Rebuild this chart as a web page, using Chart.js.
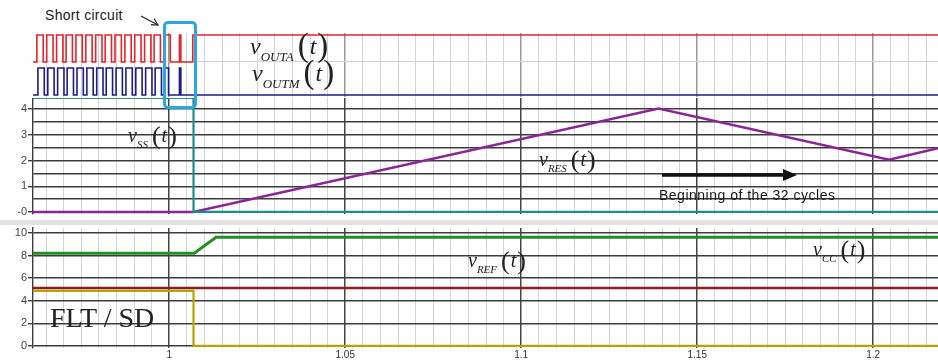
<!DOCTYPE html>
<html>
<head>
<meta charset="utf-8">
<title>Short circuit</title>
<script src="https://cdn.jsdelivr.net/npm/chart.js@4.4.1/dist/chart.umd.min.js"></script>
<style>
  body { margin: 0; background: #fff; }
  #wrap { position: relative; width: 938px; height: 360px; overflow: hidden; background: #fff; }
  .panel { position: absolute; left: 0; width: 938px; }
  #band { position: absolute; left: 0; top: 220px; width: 938px; height: 5px; background: #e2e2e2; }
  .eq { position: absolute; font-family: 'Liberation Serif', 'Times New Roman', serif; color: #222; white-space: nowrap; line-height: 1; }
  .eq span { position: relative; line-height: 1; }
  .note { position: absolute; font-family: 'Liberation Sans', Arial, sans-serif; color: #1a1a1a; white-space: nowrap; line-height: 1; }
  #box { position: absolute; left: 163px; top: 21px; width: 28px; height: 82px; border: 3px solid #2ba6de; border-radius: 5px; }
  svg { position: absolute; left: 0; top: 0; }
</style>
</head>
<body>
<div id="wrap">
  <div id="band"></div>
  <div class="panel" style="top:33px;height:64px"><canvas id="c1"></canvas></div>
  <div class="panel" style="top:98px;height:122px"><canvas id="c2"></canvas></div>
  <div class="panel" style="top:222px;height:138px"><canvas id="c3"></canvas></div>

  <div class="note" style="left:45px;top:8px;font-size:14px;letter-spacing:0.3px">Short circuit</div>
  <svg width="938" height="360">
    <line x1="141" y1="16" x2="158" y2="25" stroke="#222" stroke-width="1.2"/>
    <polyline points="154,18.5 158,25 151,24.6" fill="none" stroke="#222" stroke-width="1.2"/>
    <line x1="662" y1="175" x2="786" y2="175" stroke="#111" stroke-width="3.5"/>
    <polygon points="783,169 797,175 783,181" fill="#111"/>
  </svg>
  <div id="box"></div>
  <div class="note" style="left:659px;top:188px;font-size:14px;letter-spacing:0.5px">Beginning of the 32 cycles</div>
  <div class="eq" style="left:50px;top:304px;font-size:28px">FLT / SD</div>
</div>

<script>
// time axis (s)
const tMin = 0.9613;
const tMax = 1.2184;
const xTickLabels = [1, 1.05, 1.1, 1.15, 1.2];

// gate outputs: edge times, first edge is a rising one
const outaEdges = [0.9624, 0.9642, 0.9652, 0.9670, 0.9680, 0.9698, 0.9707, 0.9725, 0.9735, 0.9753,
                   0.9763, 0.9781, 0.9791, 0.9809, 0.9818, 0.9836, 0.9846, 0.9864, 0.9874, 0.9892,
                   0.9902, 0.9920, 0.9930, 0.9948, 0.9957, 0.9975, 0.9985, 1.0003, 1.0029, 1.0033,
                   1.0067];
const outmEdges = [0.9627, 0.9645, 0.9655, 0.9673, 0.9683, 0.9701, 0.9710, 0.9728, 0.9738, 0.9756,
                   0.9766, 0.9784, 0.9794, 0.9812, 0.9821, 0.9839, 0.9849, 0.9867, 0.9877, 0.9895,
                   0.9905, 0.9923, 0.9933, 0.9951, 0.9960, 0.9978, 0.9988, 0.9998, 1.0029, 1.0033];
const outaLevels = [5.47, 9.69];   // low, high (display offset)
const outmLevels = [0.31, 4.53];

// soft-start and resonant-timer voltages (V)
const ssT = [0.9613, 1.0069, 1.0069, 1.2184];
const ssV = [4.43, 4.43, 0, 0];
const resT = [0.9613, 1.0069, 1.1390, 1.2045, 1.2184];
const resV = [0, 0, 4.02, 2.03, 2.48];
const resTickVals = [0, 1, 2, 3, 4];
const resTickText = ['-0', '1', '2', '3', '4'];

// supply, reference and fault voltages (V)
const ccT = [0.9613, 1.0071, 1.0133, 1.2184];
const ccV = [8.2, 8.2, 9.62, 9.62];
const refT = [0.9613, 1.2184];
const refV = [5.13, 5.13];
const fltT = [0.9613, 1.0069, 1.0069, 1.2184];
const fltV = [4.87, 4.87, 0, 0];
const ccTickVals = [0, 2, 4, 6, 8, 10];

function pts(ts, vs) {
    return ts.map((t, i) => ({ x: t, y: vs[i] }));
}

function stepPts(edges, levels) {
    let lvl = 0;
    const out = [{ x: tMin, y: levels[0] }];
    edges.forEach(e => {
        out.push({ x: e, y: levels[lvl] });
        lvl = 1 - lvl;
        out.push({ x: e, y: levels[lvl] });
    });
    out.push({ x: tMax, y: levels[lvl] });
    return out;
}

function isMajor(v) {
    return Math.abs(v * 20 - Math.round(v * 20)) < 1e-6;
}

function xScale(showLabels, majorCol) {
    return {
        type: 'linear',
        min: tMin,
        max: tMax,
        ticks: {
            display: showLabels,
            stepSize: 0.005,
            includeBounds: false,
            autoSkip: false,
            maxRotation: 0,
            padding: 1,
            color: '#333',
            font: { family: 'Liberation Sans', size: 10 },
            callback: v => {
                const m = xTickLabels.find(l => Math.abs(l - v) < 1e-6);
                return m === undefined ? '' : String(m);
            }
        },
        grid: {
            drawTicks: false,
            lineWidth: c => (c.tick && isMajor(c.tick.value)) ? 1.5 : 1,
            color: c => (c.tick && isMajor(c.tick.value)) ? majorCol : '#d4d4d4'
        },
        border: { display: false },
        afterFit: s => { s.height = showLabels ? 12 : 0; s.paddingLeft = 0; s.paddingRight = 0; }
    };
}

function yFit(s) {
    s.width = 33;
    s.paddingTop = 0;
    s.paddingBottom = 0;
}

function line(data, color, width) {
    return { data: data, borderColor: color, borderWidth: width, pointRadius: 0, fill: false, clip: false };
}

const common = {
    responsive: true,
    maintainAspectRatio: false,
    animation: false,
    events: [],
    elements: { line: { tension: 0, borderJoinStyle: 'miter' } },
    plugins: { legend: { display: false }, tooltip: { enabled: false } }
};

// gate outputs
new Chart(document.getElementById('c1'), {
    type: 'line',
    data: {
        datasets: [
            line(stepPts(outaEdges, outaLevels), '#e3262b', 1.6),
            line(stepPts(outmEdges, outmLevels), '#1d1d8a', 1.6)
        ]
    },
    options: Object.assign({}, common, {
        layout: { padding: 0 },
        scales: {
            x: xScale(false, '#999'),
            y: {
                min: 0, max: 10,
                ticks: { display: false },
                grid: { drawTicks: false, color: '#d4d4d4' },
                border: { display: false },
                afterBuildTicks: s => { s.ticks = [{ value: 5.6 }]; },
                afterFit: yFit
            }
        }
    })
});

// vSS and vRES
new Chart(document.getElementById('c2'), {
    type: 'line',
    data: {
        datasets: [
            line(pts(ssT, ssV), '#1f8c8c', 2.2),
            line(pts(resT, resV), '#8a2596', 2.4)
        ]
    },
    options: Object.assign({}, common, {
        layout: { padding: { bottom: 6 } },
        scales: {
            x: xScale(false, '#444'),
            y: {
                min: -0.08, max: 4.43,
                ticks: {
                    stepSize: 0.5,
                    includeBounds: false,
                    autoSkip: false,
                    padding: 1,
                    color: '#444',
                    font: { family: 'Liberation Sans', size: 11 },
                    callback: v => {
                        const i = resTickVals.indexOf(v);
                        return i < 0 ? '' : resTickText[i];
                    }
                },
                grid: {
                    color: '#3c3c3c',
                    lineWidth: 1.4,
                    tickLength: 5,
                    tickColor: c => (c.tick && resTickVals.indexOf(c.tick.value) >= 0) ? '#3c3c3c' : 'rgba(0,0,0,0)'
                },
                border: { color: '#3c3c3c', width: 1.4 },
                afterFit: yFit
            }
        }
    })
});

// vCC, vREF and FLT/SD
new Chart(document.getElementById('c3'), {
    type: 'line',
    data: {
        datasets: [
            line(pts(ccT, ccV), '#238f23', 3),
            line(pts(refT, refV), '#8e1d1d', 2.4),
            line(pts(fltT, fltV), '#b9a300', 2.2)
        ]
    },
    options: Object.assign({}, common, {
        layout: { padding: { top: 6 } },
        scales: {
            x: xScale(true, '#444'),
            y: {
                min: -0.18, max: 10.44,
                ticks: {
                    stepSize: 2,
                    includeBounds: false,
                    autoSkip: false,
                    padding: 1,
                    color: '#444',
                    font: { family: 'Liberation Sans', size: 11 },
                    callback: v => ccTickVals.indexOf(v) < 0 ? '' : String(v)
                },
                grid: { color: '#3c3c3c', lineWidth: 1.4, tickLength: 5 },
                border: { color: '#3c3c3c', width: 1.4 },
                afterFit: yFit
            }
        }
    })
});

// signal names, v with subscript and (t)
const big = [24, 13, 33];
const small = [20, 11, 26];
function eqLabel(x, base, sub, size) {
    const d = document.createElement('div');
    d.className = 'eq';
    d.style.left = x + 'px';
    d.style.top = (base - 0.8375 * size[2]) + 'px';
    d.style.fontSize = size[2] + 'px';
    d.innerHTML = '<span style="font-size:' + size[0] + 'px;font-style:italic">v</span>' +
        '<span style="font-size:' + size[1] + 'px;font-style:italic;top:' + Math.round(size[1] * 0.55) + 'px">' + sub + '</span>' +
        '<span style="margin-left:4px;top:2px">(</span>' +
        '<span style="font-size:' + size[0] + 'px;font-style:italic;margin:0 1px">t</span>' +
        '<span style="top:2px">)</span>';
    document.getElementById('wrap').appendChild(d);
}
eqLabel(250, 55, 'OUTA', big);
eqLabel(252, 82, 'OUTM', big);
eqLabel(128, 143, 'SS', small);
eqLabel(539, 167, 'RES', small);
eqLabel(468, 268, 'REF', small);
eqLabel(813, 257, 'CC', small);
</script>
</body>
</html>
